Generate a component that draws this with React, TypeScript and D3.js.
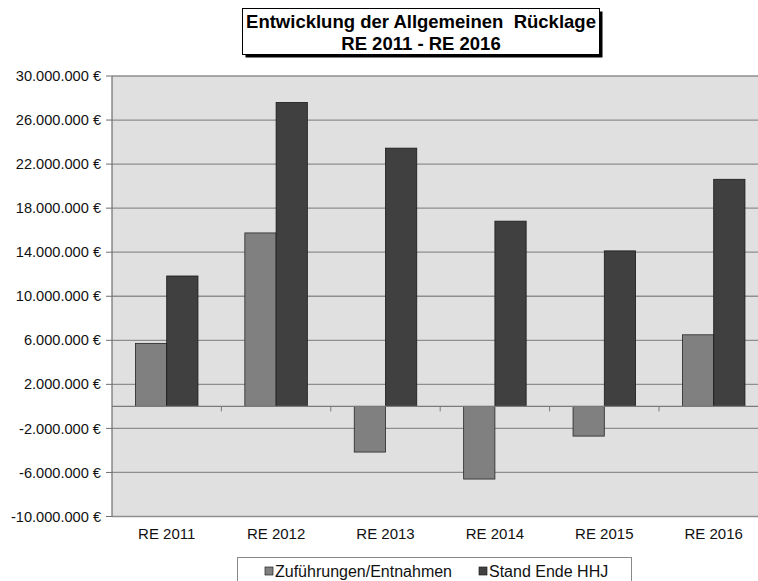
import React from "react";
import * as d3 from "d3";

const categories = ["RE 2011", "RE 2012", "RE 2013", "RE 2014", "RE 2015", "RE 2016"];
const zufuehrungen = [5720000, 15750000, -4150000, -6600000, -2700000, 6500000];
const standEndeHHJ = [11840000, 27600000, 23450000, 16820000, 14120000, 20620000];
const yTicks = [30000000, 26000000, 22000000, 18000000, 14000000, 10000000, 6000000, 2000000, -2000000, -6000000, -10000000];
const seriesNames = ["Zuführungen/Entnahmen", "Stand Ende HHJ"];
const titleLines = ["Entwicklung der Allgemeinen  Rücklage", "RE 2011 - RE 2016"];

const W = 758;
const H = 581;
const FONT = "'Liberation Sans', Arial, sans-serif";
const COLORS = ["#808080", "#404040"];

const locale = d3.formatLocale({ decimal: ",", thousands: ".", grouping: [3], currency: ["", "\u00a0€"], minus: "-" });
const fmt = locale.format("$,.0f");

export default function App() {
  const plotL = 112;
  const band = 109.4;
  const plotR = plotL + band * categories.length;
  const plotT = 76;
  const plotB = 516.5;

  const x = d3.scaleBand<string>().domain(categories).range([plotL, plotR]).paddingInner(0).paddingOuter(0);
  const y = d3.scaleLinear().domain([-10000000, 30000000]).range([plotB, plotT]);
  const barW = band / 3.5;
  const y0 = y(0);

  const tX = 242.5;
  const tW = 357;

  return (
    <div style={{ position: "absolute", left: 0, top: 0, width: W, height: H, overflow: "hidden", background: "#fff" }}>
      <svg width={W} height={H} style={{ display: "block", fontFamily: FONT }}>
        {/* plot background */}
        <rect x={plotL} y={plotT} width={plotR - plotL} height={plotB - plotT} fill="#e0e0e0" />
        {/* gridlines */}
        {yTicks.map((t) => (
          <line key={"g" + t} x1={plotL} x2={plotR} y1={y(t)} y2={y(t)} stroke="#8e8e8e" strokeWidth={1.3} />
        ))}
        {/* bars */}
        {categories.map((c, i) => {
          const bx = (x(c) as number) + band / 2 - barW;
          const v1 = zufuehrungen[i];
          const v2 = standEndeHHJ[i];
          return (
            <g key={c}>
              <rect x={bx} y={Math.min(y(v1), y0)} width={barW} height={Math.abs(y(v1) - y0)} fill={COLORS[0]} stroke="#262626" strokeWidth={0.8} />
              <rect x={bx + barW} y={Math.min(y(v2), y0)} width={barW} height={Math.abs(y(v2) - y0)} fill={COLORS[1]} stroke="#1a1a1a" strokeWidth={0.8} />
            </g>
          );
        })}
        {/* zero axis */}
        <line x1={plotL} x2={plotR} y1={y0} y2={y0} stroke="#7a7a7a" strokeWidth={1.2} />
        {categories.map((c) => (
          <line key={"xt" + c} x1={(x(c) as number) + band} x2={(x(c) as number) + band} y1={y0} y2={y0 + 5} stroke="#7a7a7a" strokeWidth={1} />
        ))}
        {/* left axis */}
        <line x1={plotL} x2={plotL} y1={plotT} y2={plotB} stroke="#6e6e6e" strokeWidth={1.2} />
        {yTicks.map((t) => (
          <g key={"yt" + t}>
            <line x1={plotL - 6} x2={plotL} y1={y(t)} y2={y(t)} stroke="#6e6e6e" strokeWidth={1} />
            <text x={plotL - 11} y={y(t)} dy="0.35em" textAnchor="end" fontSize={14.6} fill="#111">
              {fmt(t)}
            </text>
          </g>
        ))}
        {/* x labels */}
        {categories.map((c) => (
          <text key={"xl" + c} x={(x(c) as number) + band / 2} y={539} textAnchor="middle" fontSize={15} fill="#111">
            {c}
          </text>
        ))}
        {/* title */}
        <rect x={tX + 3} y={11.5} width={tW} height={46} fill="#000" />
        <rect x={tX} y={8.5} width={tW} height={46} fill="#fff" stroke="#000" strokeWidth={1} />
        {titleLines.map((l, i) => (
          <text key={"t" + i} x={tX + tW / 2} y={28 + i * 22} textAnchor="middle" fontSize={18.5} fontWeight="bold" fill="#000" style={{ whiteSpace: "pre" }}>
            {l}
          </text>
        ))}
        {/* legend */}
        <rect x={237.5} y={557.5} width={394} height={40} fill="#fff" stroke="#888" strokeWidth={1} />
        {seriesNames.map((s, i) => {
          const lx = i === 0 ? 265 : 479;
          return (
            <g key={s}>
              <rect x={lx} y={567} width={8} height={8} fill={COLORS[i]} stroke="#222" strokeWidth={0.7} />
              <text x={lx + 10} y={571.5} dy="0.35em" fontSize={16} fill="#111">
                {s}
              </text>
            </g>
          );
        })}
      </svg>
    </div>
  );
}
